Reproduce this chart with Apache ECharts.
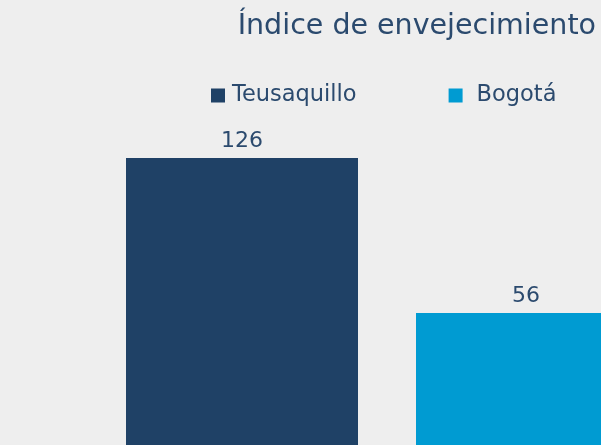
<!DOCTYPE html>
<html>
<head>
<meta charset="utf-8">
<script src="https://cdn.jsdelivr.net/npm/echarts@6/dist/echarts.min.js"></script>
<style>
  html, body { margin: 0; padding: 0; background: #eeeeee; }
  #chart { width: 601px; height: 445px; }
</style>
</head>
<body>
<div id="chart"></div>
<script>
const categories = ['Índice de envejecimiento']
const seriesNames = ['Teusaquillo', 'Bogotá']
const teusaquilloValues = [126]
const bogotaValues = [56]

const textColor = '#2b4a6e'
const fontFamily = '"DejaVu Sans", sans-serif'

const chart = echarts.init(document.getElementById('chart'))

const option = {
  backgroundColor: '#eeeeee',
  animation: false,
  title: {
    text: 'Índice de envejecimiento',
    right: 0,
    top: 7,
    textStyle: { color: textColor, fontSize: 28.5, fontWeight: 'normal', fontFamily }
  },
  legend: {
    data: [
      { name: seriesNames[0] },
      { name: seriesNames[1], textStyle: { padding: [0, 0, 0, 9] } }
    ],
    left: 206,
    top: 79,
    itemWidth: 14,
    itemHeight: 14,
    itemGap: 92,
    icon: 'rect',
    textStyle: { color: textColor, fontSize: 22.5, fontFamily, padding: [0, 0, 0, 2] }
  },
  // bars are cut off at the bottom edge, so the value axis starts below 0
  grid: { left: 173, right: 0, top: 127, bottom: 0 },
  xAxis: {
    type: 'category',
    data: categories,
    show: false
  },
  yAxis: {
    type: 'value',
    min: -3.6,
    max: 140,
    startValue: -3.6,
    show: false
  },
  series: [
    {
      name: seriesNames[0],
      type: 'bar',
      data: teusaquilloValues,
      barWidth: 232,
      barGap: '25%',
      clip: false,
      itemStyle: { color: '#1f4166' },
      label: {
        show: true,
        position: 'top',
        distance: 6,
        color: textColor,
        fontSize: 22,
        fontFamily
      }
    },
    {
      name: seriesNames[1],
      type: 'bar',
      data: bogotaValues,
      barWidth: 232,
      barGap: '25%',
      clip: false,
      itemStyle: { color: '#009bd2' },
      label: {
        show: true,
        position: 'top',
        distance: 6,
        offset: [-6, 0],
        color: textColor,
        fontSize: 22,
        fontFamily
      }
    }
  ]
}

chart.setOption(option)
</script>
</body>
</html>
